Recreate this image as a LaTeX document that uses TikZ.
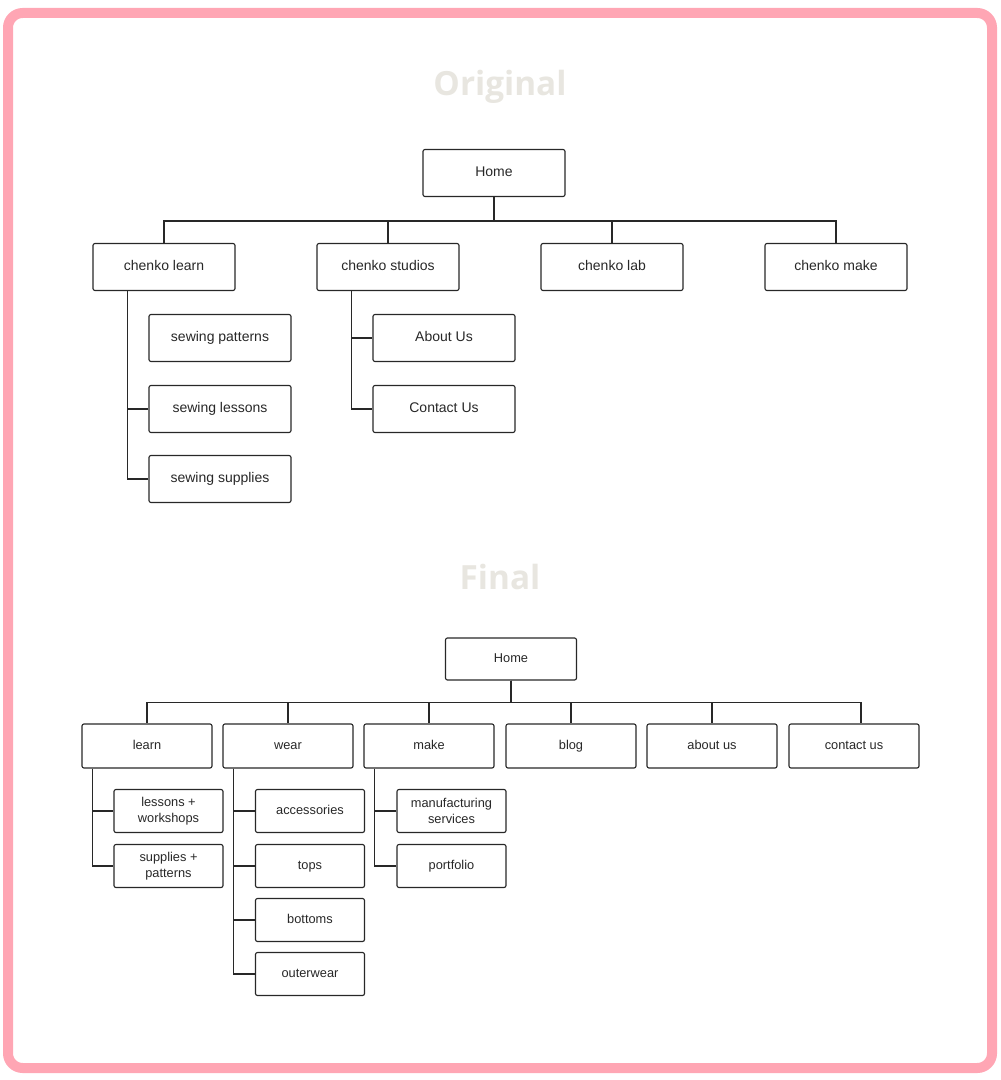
\documentclass[tikz,border=0pt]{standalone}
\usepackage{fontspec}
\setmainfont{Liberation Sans}
\newfontfamily\titlefont{Open Sans}
\usetikzlibrary{calc}
\definecolor{pinkframe}{RGB}{255,166,180}
\definecolor{titlegray}{RGB}{232,230,224}
\definecolor{boxline}{RGB}{40,40,40}
\definecolor{boxtext}{RGB}{40,40,40}
\tikzset{
  topbox/.style={draw=boxline, line width=0.85pt, rounded corners=1.5pt, fill=white,
    minimum width=106.5pt, minimum height=35.25pt, inner sep=0pt,
    text height=0.72em, text depth=0.21em,
    text=boxtext, font=\fontsize{10.5}{12.5}\selectfont},
  midbox/.style={draw=boxline, line width=0.85pt, rounded corners=1.5pt, fill=white,
    minimum width=97.5pt, minimum height=33pt, inner sep=0pt,
    text height=0.72em, text depth=0.21em,
    text=boxtext, font=\fontsize{9.6}{11.5}\selectfont},
  kidbox/.style={draw=boxline, line width=0.85pt, rounded corners=1.5pt, fill=white,
    minimum width=81.75pt, minimum height=32.25pt, inner sep=0pt, align=center,
    text=boxtext, font=\fontsize{9.6}{12}\selectfont},
  link/.style={draw=boxline, line width=0.85pt},
  titletext/.style={text=titlegray, font=\titlefont\bfseries\fontsize{25}{30}\selectfont, anchor=base}
}
\begin{document}
\begin{tikzpicture}[x=0.75pt,y=-0.75pt]
\useasboundingbox (0,0) rectangle (1000,1080);
\draw[pinkframe, line width=7.5pt, rounded corners=11pt] (8,13) rectangle (992,1068);

\node[titletext] (t1) at (500,96) {Original};
\node[titletext] (t2) at (500,589) {Final};

% ---------- Original ----------
\node[topbox] (home) at (494,173) {Home};
\node[topbox] (cl) at (164,267) {chenko learn};
\node[topbox] (cs) at (388,267) {chenko studios};
\node[topbox] (clab) at (612,267) {chenko lab};
\node[topbox] (cm) at (836,267) {chenko make};

\node[topbox] (sp) at (220,338) {sewing patterns};
\node[topbox] (sl) at (220,409) {sewing lessons};
\node[topbox] (ss) at (220,479) {sewing supplies};

\node[topbox] (au) at (444,338) {About Us};
\node[topbox] (cu1) at (444,409) {Contact Us};

\foreach \c in {cl,cs,clab,cm}
  \draw[link] (home.south) -- ++(0,24) -| (\c.north);

\draw[link] ($(cl.south west)+(35,0)$) |- (ss.west);
\draw[link] ($(cl.south west)+(35,0)$) |- (sl.west);
\draw[link] ($(cs.south west)+(35,0)$) |- (cu1.west);
\draw[link] ($(cs.south west)+(35,0)$) |- (au.west);

% ---------- Final ----------
\node[midbox, minimum width=98.25pt, minimum height=31.5pt] (home2) at (511,659) {Home};
\node[midbox] (learn) at (147,746) {learn};
\node[midbox] (wear) at (288,746) {wear};
\node[midbox] (make) at (429,746) {make};
\node[midbox] (blog) at (571,746) {blog};
\node[midbox] (about) at (712,746) {about us};
\node[midbox] (contact) at (854,746) {contact us};

\node[kidbox] (lw) at (168.5,811) {lessons +\\workshops};
\node[kidbox] (spat) at (168.5,866) {supplies +\\patterns};

\node[kidbox, text height=0.72em, text depth=0.21em] (acc) at (310,811) {accessories};
\node[kidbox, text height=0.72em, text depth=0.21em] (tops) at (310,866) {tops};
\node[kidbox, text height=0.72em, text depth=0.21em] (bot) at (310,920) {bottoms};
\node[kidbox, text height=0.72em, text depth=0.21em] (outer) at (310,974) {outerwear};

\node[kidbox] (manu) at (451.5,811) {manufacturing\\services};
\node[kidbox, text height=0.72em, text depth=0.21em] (port) at (451.5,866) {portfolio};

\foreach \c in {learn,wear,make,blog,about}
  \draw[link] (home2.south) -- ++(0,22) -| (\c.north);
\draw[link] (home2.south) -- ++(0,22) -| ([xshift=5.25pt]contact.north);

\draw[link] ($(learn.south west)+(11,0)$) |- (spat.west);
\draw[link] ($(learn.south west)+(11,0)$) |- (lw.west);
\draw[link] ($(wear.south west)+(11,0)$) |- (outer.west);
\draw[link] ($(wear.south west)+(11,0)$) |- (bot.west);
\draw[link] ($(wear.south west)+(11,0)$) |- (tops.west);
\draw[link] ($(wear.south west)+(11,0)$) |- (acc.west);
\draw[link] ($(make.south west)+(11,0)$) |- (port.west);
\draw[link] ($(make.south west)+(11,0)$) |- (manu.west);
\end{tikzpicture}
\end{document}
